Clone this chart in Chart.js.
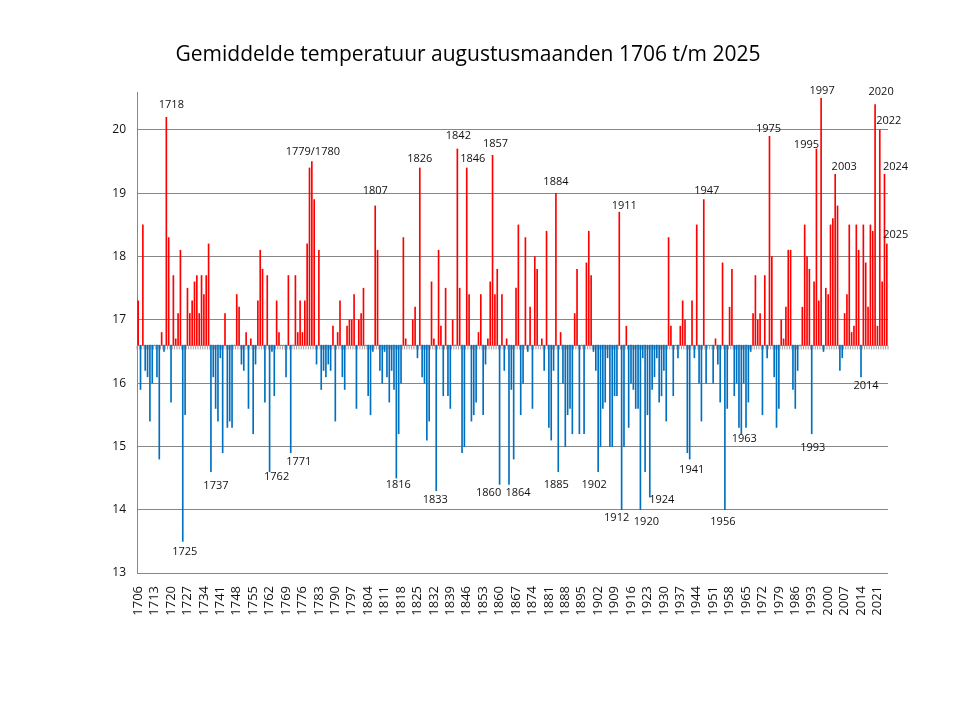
<!DOCTYPE html>
<html>
<head>
<meta charset="utf-8">
<title>Gemiddelde temperatuur augustusmaanden 1706 t/m 2025</title>
<script src="https://cdn.jsdelivr.net/npm/chart.js@4.4.1/dist/chart.umd.min.js"></script>
<style>
  html, body { margin: 0; padding: 0; background: #fff; }
  #wrap { width: 960px; height: 720px; }
</style>
</head>
<body>
<div id="wrap"><canvas id="myChart" width="960" height="720"></canvas></div>
<script>
// August mean temperature, one value per year starting 1706
var firstYear = 1706;
var temps = [
  17.3, 15.9, 18.5, 16.2, 16.1, 15.4, 16.0, 16.6, 16.1, 14.8, // 1706
  16.8, 16.5, 20.2, 18.3, 15.7, 17.7, 16.7, 17.1, 18.1, 13.5, // 1716
  15.5, 17.5, 17.1, 17.3, 17.6, 17.7, 17.1, 17.7, 17.4, 17.7, // 1726
  18.2, 14.6, 16.1, 15.6, 15.4, 16.4, 14.9, 17.1, 15.3, 15.4, // 1736
  15.3, 16.6, 17.4, 17.2, 16.3, 16.2, 16.8, 15.6, 16.7, 15.2, // 1746
  16.3, 17.3, 18.1, 17.8, 15.7, 17.7, 14.6, 16.5, 15.8, 17.3, // 1756
  16.8, 16.6, 16.6, 16.1, 17.7, 14.9, 16.6, 17.7, 16.8, 17.3, // 1766
  16.8, 17.3, 18.2, 19.4, 19.5, 18.9, 16.3, 18.1, 15.9, 16.2, // 1776
  16.1, 16.3, 16.2, 16.9, 15.4, 16.8, 17.3, 16.1, 15.9, 16.9, // 1786
  17.0, 17.0, 17.4, 15.6, 17.0, 17.1, 17.5, 16.6, 15.8, 15.5, // 1796
  16.5, 18.8, 18.1, 16.2, 16.0, 16.5, 16.1, 15.7, 16.2, 15.9, // 1806
  14.5, 15.2, 16.0, 18.3, 16.7, 16.6, 16.6, 17.0, 17.2, 16.4, // 1816
  19.4, 16.1, 16.0, 15.1, 15.4, 17.6, 16.7, 14.3, 18.1, 16.9, // 1826
  15.8, 17.5, 15.8, 15.6, 17.0, 16.6, 19.7, 17.5, 14.9, 15.0, // 1836
  19.4, 17.4, 15.4, 15.5, 15.7, 16.8, 17.4, 15.5, 16.3, 16.7, // 1846
  17.6, 19.6, 17.4, 17.8, 14.4, 17.4, 16.2, 16.7, 14.4, 15.9, // 1856
  14.8, 17.5, 18.5, 15.5, 16.0, 18.3, 16.5, 17.2, 15.6, 18.0, // 1866
  17.8, 16.6, 16.7, 16.2, 18.4, 15.3, 15.1, 16.2, 19.0, 14.6, // 1876
  16.8, 16.0, 15.0, 15.5, 15.6, 15.2, 17.1, 17.8, 15.2, 16.6, // 1886
  15.2, 17.9, 18.4, 17.7, 16.5, 16.2, 14.6, 15.0, 15.6, 15.7, // 1896
  16.4, 15.0, 15.0, 15.8, 15.8, 18.7, 14.0, 15.0, 16.9, 15.3, // 1906
  16.0, 15.9, 15.6, 15.6, 14.0, 16.4, 14.6, 15.5, 14.2, 15.9, // 1916
  16.1, 16.4, 15.7, 15.8, 16.2, 15.4, 18.3, 16.9, 15.8, 16.6, // 1926
  16.4, 16.9, 17.3, 17.0, 14.9, 14.8, 17.3, 16.4, 18.5, 16.0, // 1936
  15.4, 18.9, 16.0, 16.6, 16.6, 16.0, 16.7, 16.3, 15.7, 17.9, // 1946
  14.0, 15.6, 17.2, 17.8, 15.8, 16.0, 15.3, 15.2, 16.0, 15.3, // 1956
  15.7, 16.5, 17.1, 17.7, 17.0, 17.1, 15.5, 17.7, 16.4, 19.9, // 1966
  18.0, 16.1, 15.3, 15.6, 17.0, 16.7, 17.2, 18.1, 18.1, 15.9, // 1976
  15.6, 16.2, 16.6, 17.2, 18.5, 18.0, 17.8, 15.2, 17.6, 19.7, // 1986
  17.3, 20.5, 16.5, 17.5, 17.4, 18.5, 18.6, 19.3, 18.8, 16.2, // 1996
  16.4, 17.1, 17.4, 18.5, 16.8, 16.9, 18.5, 18.1, 16.1, 18.5, // 2006
  17.9, 17.2, 18.5, 18.4, 20.4, 16.9, 20.0, 17.6, 19.3, 18.2  // 2016
];
var baseline = 16.6;
var years = [];
for (var i = 0; i < temps.length; i++) years.push(String(firstYear + i));

// year labels written next to the extreme bars (dx/dy = offset from bar tip)
var notes = [
  {year: 1718, text: '1718', dx: 5, dy: -12},
  {year: 1725, text: '1725', dx: 2, dy: 11},
  {year: 1737, text: '1737', dx: 5, dy: 14},
  {year: 1762, text: '1762', dx: 7, dy: 5},
  {year: 1771, text: '1771', dx: 8, dy: 9},
  {year: 1780, text: '1779/1780', dx: 1, dy: -10},
  {year: 1807, text: '1807', dx: 0, dy: -15},
  {year: 1816, text: '1816', dx: 2, dy: 7},
  {year: 1826, text: '1826', dx: 0, dy: -9},
  {year: 1833, text: '1833', dx: -1, dy: 9},
  {year: 1842, text: '1842', dx: 1, dy: -13},
  {year: 1846, text: '1846', dx: 6, dy: -9},
  {year: 1857, text: '1857', dx: 3, dy: -11},
  {year: 1860, text: '1860', dx: -11, dy: 8},
  {year: 1864, text: '1864', dx: 9, dy: 8},
  {year: 1884, text: '1884', dx: 0, dy: -11},
  {year: 1885, text: '1885', dx: -2, dy: 13},
  {year: 1902, text: '1902', dx: -4, dy: 13},
  {year: 1911, text: '1911', dx: 5, dy: -6},
  {year: 1912, text: '1912', dx: -5, dy: 8},
  {year: 1920, text: '1920', dx: 6, dy: 12},
  {year: 1924, text: '1924', dx: 12, dy: 3},
  {year: 1941, text: '1941', dx: 2, dy: 11},
  {year: 1947, text: '1947', dx: 3, dy: -9},
  {year: 1956, text: '1956', dx: -2, dy: 12},
  {year: 1963, text: '1963', dx: 3, dy: 5},
  {year: 1975, text: '1975', dx: -1, dy: -7},
  {year: 1993, text: '1993', dx: 1, dy: 14},
  {year: 1995, text: '1995', dx: -10, dy: -4},
  {year: 1997, text: '1997', dx: 1, dy: -7},
  {year: 2003, text: '2003', dx: 9, dy: -7},
  {year: 2014, text: '2014', dx: 5, dy: 9},
  {year: 2020, text: '2020', dx: 6, dy: -13},
  {year: 2022, text: '2022', dx: 9, dy: -9},
  {year: 2024, text: '2024', dx: 11, dy: -7},
  {year: 2025, text: '2025', dx: 9, dy: -9}
];

var fontFamily = '"Open Sans", "Noto Sans", sans-serif';
var gridGray = '#878787';

// bars float from the baseline to the value
var bars = temps.map(function (t) { return [baseline, t]; });
var barColors = temps.map(function (t) { return t > baseline ? '#ff0000' : '#0070c0'; });

var extras = {
  id: 'extras',
  beforeDatasetsDraw: function (chart) {
    var c = chart.ctx, ys = chart.scales.y;
    var yb = Math.round(ys.getPixelForValue(baseline)) + 0.5;
    c.save();
    c.strokeStyle = '#a0a0a0';
    c.lineWidth = 1;
    c.beginPath();
    c.moveTo(chart.chartArea.left, yb);
    c.lineTo(chart.chartArea.right, yb);
    var step = (chart.chartArea.right - chart.chartArea.left) / temps.length;
    for (var i = 0; i <= temps.length; i++) {
      var x = chart.chartArea.left + i * step;
      c.moveTo(x, yb);
      c.lineTo(x, yb + 4);
    }
    c.stroke();
    c.restore();
  },
  afterDraw: function (chart) {
    var c = chart.ctx, xs = chart.scales.x, ys = chart.scales.y;
    c.save();
    c.fillStyle = '#000';
    c.textAlign = 'center';
    c.textBaseline = 'middle';
    c.font = '21px ' + fontFamily;
    c.fillText('Gemiddelde temperatuur augustusmaanden 1706 t/m 2025', 468, 55);
    c.font = '11px ' + fontFamily;
    c.fillStyle = '#111';
    notes.forEach(function (n) {
      var idx = n.year - firstYear;
      var x = xs.getPixelForValue(idx) + n.dx;
      var y = ys.getPixelForValue(temps[idx]) + n.dy;
      c.fillText(n.text, x, y);
    });
    c.restore();
  }
};

var ctx = document.getElementById('myChart').getContext('2d');
var myChart = new Chart(ctx, {
  type: 'bar',
  data: {
    labels: years,
    datasets: [{
      data: bars,
      backgroundColor: barColors,
      borderWidth: 0,
      barThickness: 1
    }]
  },
  options: {
    responsive: false,
    animation: false,
    devicePixelRatio: 1,
    layout: { padding: { top: 92, right: 72, bottom: 0, left: 0 } },
    plugins: {
      legend: { display: false },
      tooltip: { enabled: false },
      title: { display: false }
    },
    scales: {
      x: {
        grid: { display: false },
        border: { display: false },
        ticks: {
          autoSkip: false,
          maxRotation: 90,
          minRotation: 90,
          padding: 5,
          color: '#111',
          font: { family: fontFamily, size: 13 },
          callback: function (v, i) { return i % 7 === 0 ? this.getLabelForValue(v) : ''; }
        },
        afterFit: function (s) { s.height = 147; }
      },
      y: {
        min: 13,
        max: 20.6,
        grid: { color: gridGray, drawTicks: false },
        border: { color: gridGray },
        ticks: {
          stepSize: 1,
          padding: 11,
          color: '#111',
          font: { family: fontFamily, size: 12 }
        },
        afterBuildTicks: function (s) {
          s.ticks = s.ticks.filter(function (t) { return Number.isInteger(t.value); });
        },
        afterFit: function (s) { s.width = 137; }
      }
    }
  },
  plugins: [extras]
});
</script>
</body>
</html>
